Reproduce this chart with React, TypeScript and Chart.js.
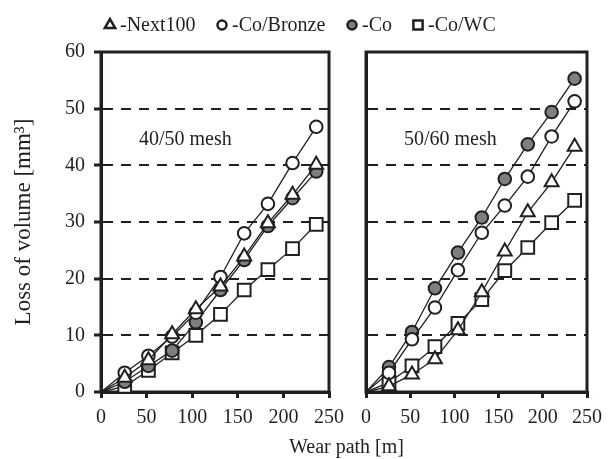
import React, { useEffect, useRef } from "react";
import { Chart, registerables } from "chart.js";
import { drawPoint } from "chart.js/helpers";

Chart.register(...registerables);

// ---------- data ----------
const wearPath = [0, 26, 52, 78, 104, 131, 157, 183, 210, 236];
const seriesNames = ["-Next100", "-Co/Bronze", "-Co", "-Co/WC"];
const panelLabels = ["40/50 mesh", "50/60 mesh"];

const left_Next100 = [0, 2.5, 5.6, 10.2, 14.6, 18.6, 23.9, 29.8, 34.8, 40.1];
const left_CoBronze = [0, 3.4, 6.4, 9.8, 14.0, 20.3, 28.0, 33.2, 40.4, 46.8];
const left_Co = [0, 1.8, 4.6, 7.3, 12.3, 18.0, 23.3, 29.3, 34.2, 38.9];
const left_CoWC = [0, 1.0, 3.8, 6.9, 10.0, 13.7, 18.0, 21.6, 25.3, 29.6];

const right_Next100 = [0, 1.0, 3.1, 5.8, 10.9, 17.6, 24.8, 31.7, 37.0, 43.3];
const right_CoBronze = [0, 3.4, 9.3, 14.9, 21.5, 28.1, 32.9, 38.0, 45.1, 51.3];
const right_Co = [0, 4.4, 10.6, 18.3, 24.6, 30.8, 37.6, 43.7, 49.4, 55.3];
const right_CoWC = [0, 1.7, 4.6, 8.0, 12.1, 16.3, 21.4, 25.5, 29.9, 33.8];

const xMin = 0, xMax = 250, xStep = 50;
const yMin = 0, yMax = 60, yStep = 10;
const xTitle = "Wear path [m]";
const yTitle = "Loss of volume [mm³]";

// ---------- styles ----------
const INK = "#231f20";
const GRAY = "#7f7f7f";
const FONT = "'Liberation Serif', 'Times New Roman', serif";
const markerStyles = [
  { pointStyle: "triangle", fill: "#ffffff", radius: 8, legendRadius: 6 },
  { pointStyle: "circle", fill: "#ffffff", radius: 6.3, legendRadius: 4.5 },
  { pointStyle: "circle", fill: GRAY, radius: 6.3, legendRadius: 4.5 },
  { pointStyle: "rect", fill: "#ffffff", radius: 9, legendRadius: 6.5 },
];
const legendX = [110, 222, 352, 418];

function buildDatasets(values: number[][]) {
  return values.map((vals, i) => ({
    label: seriesNames[i],
    data: wearPath.map((x, j) => ({ x, y: vals[j] })),
    borderColor: INK,
    borderWidth: 1.3,
    pointStyle: markerStyles[i].pointStyle as any,
    pointRadius: (ctx: any) => (ctx.dataIndex === 0 ? 0 : markerStyles[i].radius),
    pointBackgroundColor: markerStyles[i].fill,
    pointBorderColor: INK,
    pointBorderWidth: 2,
    fill: false,
    tension: 0,
  }));
}

const framePlugin = {
  id: "frame",
  beforeDatasetsDraw(chart: any) {
    const { ctx, chartArea: a } = chart;
    ctx.save();
    ctx.strokeStyle = INK;
    ctx.lineWidth = 3;
    ctx.strokeRect(a.left, a.top, a.right - a.left, a.bottom - a.top);
    ctx.restore();
  },
};

function labelPlugin(text: string) {
  return {
    id: "panelLabel",
    afterDatasetsDraw(chart: any) {
      const { ctx, chartArea: a } = chart;
      ctx.save();
      ctx.font = `20px ${FONT}`;
      ctx.fillStyle = INK;
      ctx.textAlign = "left";
      ctx.textBaseline = "alphabetic";
      ctx.fillText(text, a.left + 38, a.top + 93);
      ctx.restore();
    },
  };
}

const legendPlugin = {
  id: "customLegend",
  afterDraw(chart: any) {
    const { ctx } = chart;
    ctx.save();
    seriesNames.forEach((name, i) => {
      const m = markerStyles[i];
      ctx.fillStyle = m.fill;
      ctx.strokeStyle = INK;
      ctx.lineWidth = 2.5;
      drawPoint(ctx, { pointStyle: m.pointStyle as any, radius: m.legendRadius, borderWidth: 2.5, rotation: 0 }, legendX[i], 25);
      ctx.fillStyle = INK;
      ctx.font = `20px ${FONT}`;
      ctx.textAlign = "left";
      ctx.textBaseline = "alphabetic";
      ctx.fillText(name, legendX[i] + 10, 31);
    });
    // x title, centred under both panels
    ctx.font = `20px ${FONT}`;
    ctx.textAlign = "center";
    ctx.fillText(xTitle, (chart.chartArea.left + 592) / 2, 453);
    ctx.restore();
  },
};

function makeConfig(panel: number): any {
  const isLeft = panel === 0;
  const values = isLeft
    ? [left_Next100, left_CoBronze, left_Co, left_CoWC]
    : [right_Next100, right_CoBronze, right_Co, right_CoWC];
  return {
    type: "line",
    data: { datasets: buildDatasets(values) },
    options: {
      responsive: false,
      animation: false,
      events: [],
      layout: {
        padding: isLeft
          ? { left: 0, top: 52, right: 610 - 329, bottom: 0 }
          : { left: 366, top: 52, right: 18, bottom: 0 },
      },
      plugins: { legend: { display: false }, tooltip: { enabled: false }, title: { display: false } },
      scales: {
        x: {
          type: "linear",
          min: xMin,
          max: xMax,
          ticks: { stepSize: xStep, font: { family: FONT, size: 20 }, color: INK, padding: 8, maxRotation: 0, autoSkip: false },
          grid: { drawOnChartArea: false, tickLength: 6, tickWidth: 3, tickColor: INK, color: INK, lineWidth: 3 },
          border: { color: INK, width: 3 },
          afterFit: (s: any) => { s.height = 67; },
        },
        y: {
          type: "linear",
          min: yMin,
          max: yMax,
          ticks: { stepSize: yStep, display: isLeft, font: { family: FONT, size: 20 }, color: INK, padding: 9 },
          grid: {
            drawTicks: isLeft,
            color: (c: any) => (c.tick && (c.tick.value === yMin || c.tick.value === yMax) ? "rgba(0,0,0,0)" : INK),
            lineWidth: 2,
            tickColor: INK,
            tickWidth: 3,
            tickLength: 7,
            tickBorderDash: [],
          },
          border: { color: INK, width: 3, dash: [10, 8] },
          title: {
            display: isLeft,
            text: yTitle,
            font: { family: FONT, size: 23 },
            color: INK,
            padding: { top: 10, bottom: 0 },
          },
          afterFit: (s: any) => { s.width = isLeft ? 101 : 0; },
        },
      },
    },
    plugins: isLeft ? [framePlugin, labelPlugin(panelLabels[0]), legendPlugin] : [framePlugin, labelPlugin(panelLabels[1])],
  };
}

export default function App() {
  const leftRef = useRef<HTMLCanvasElement>(null);
  const rightRef = useRef<HTMLCanvasElement>(null);
  useEffect(() => {
    const c1 = new Chart(leftRef.current as HTMLCanvasElement, makeConfig(0));
    const c2 = new Chart(rightRef.current as HTMLCanvasElement, makeConfig(1));
    return () => {
      c1.destroy();
      c2.destroy();
    };
  }, []);
  return (
    <div style={{ position: "absolute", left: 0, top: 0, width: 610, height: 459, background: "#ffffff" }}>
      <canvas ref={leftRef} width={610} height={459} style={{ position: "absolute", left: 0, top: 0 }} />
      <canvas ref={rightRef} width={610} height={459} style={{ position: "absolute", left: 0, top: 0 }} />
    </div>
  );
}
